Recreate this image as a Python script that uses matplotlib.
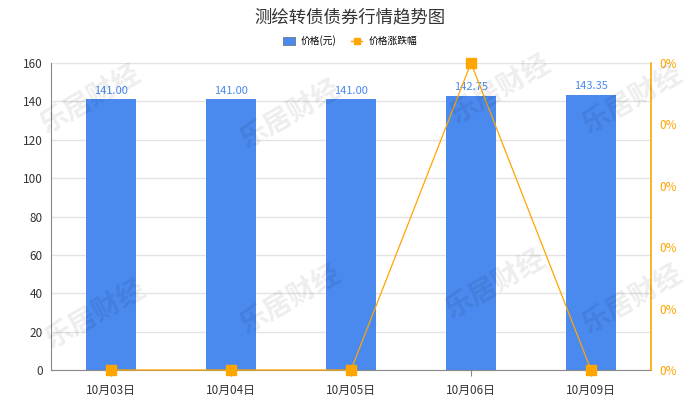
import matplotlib
matplotlib.use("Agg")
import matplotlib.pyplot as plt
from matplotlib.lines import Line2D
from matplotlib.patches import Patch

plt.rcParams['font.family'] = ['Noto Sans CJK SC', 'DejaVu Sans']

categories = ["10月03日", "10月04日", "10月05日", "10月06日", "10月09日"]
prices = [141.00, 141.00, 141.00, 142.75, 143.35]
pct_change = [0, 0, 0, 1, 0]
right_tick_labels = ["0%", "0%", "0%", "0%", "0%", "0%"]

bar_color = "#4A89EE"
line_color = "#FFA500"

fig = plt.figure(figsize=(7, 4), dpi=100)
ax = fig.add_axes([51/700, 30/400, 600/700, 307/400])
x = list(range(len(categories)))
ax.bar(x, prices, width=0.41, color=bar_color, zorder=2)
for xi, v in zip(x, prices):
    ax.text(xi, v + 2, f"{v:.2f}", ha="center", va="bottom", color=bar_color, fontsize=8)
ax.set_xlim(-0.5, len(categories) - 0.5)
ax.set_ylim(0, 160)
ax.set_yticks(range(0, 161, 20))
ax.set_xticks(x)
ax.set_xticklabels(categories)
ax.tick_params(axis="both", colors="#333333", labelsize=8.5, length=0)
ax.tick_params(axis="x", pad=6, length=4, colors="#888888", labelcolor="#333333")
ax.tick_params(axis="y", pad=6)
ax.grid(axis="y", color="#e3e3e3", linewidth=1, zorder=0)
ax.set_axisbelow(True)
for s in ["top", "right"]:
    ax.spines[s].set_visible(False)
ax.spines["left"].set_color("#888888")
ax.spines["bottom"].set_color("#888888")

ax2 = ax.twinx()
ax2.plot(x, pct_change, color=line_color, linewidth=0.9, marker="s", markersize=6.5,
         clip_on=False, zorder=5)
ax2.set_ylim(0, 1)
ax2.set_yticks([i / 5 for i in range(6)])
ax2.set_yticklabels(right_tick_labels)
ax2.tick_params(axis="y", colors=line_color, labelsize=8.5, length=0, pad=6)
for s in ["top", "left", "bottom"]:
    ax2.spines[s].set_visible(False)
ax2.spines["right"].set_color(line_color)
ax2.spines["right"].set_linewidth(1.2)

fig.text(0.5, 1 - 17/400, "测绘转债债券行情趋势图", ha="center", va="center",
         fontsize=12.5, color="#333333")

handles = [Patch(facecolor=bar_color, edgecolor="#666666", linewidth=0.5),
           Line2D([0], [0], color=line_color, marker="s", markersize=5, linewidth=1)]
fig.legend(handles, ["价格(元)", "价格涨跌幅"], loc="center", bbox_to_anchor=(0.5, 1 - 41/400),
           ncol=2, frameon=False, fontsize=7, handlelength=1.2, handleheight=0.8,
           columnspacing=1.5, handletextpad=0.6)

wm = [(90, 100), (290, 115), (500, 90), (632, 100), (95, 315), (290, 300), (495, 285), (632, 300)]
for px, py in wm:
    fig.text(px/700, 1 - py/400, "乐居财经", ha="center", va="center", rotation=30,
             fontsize=20, fontweight="bold", color="#000000", alpha=0.07, zorder=10)

fig.savefig("out.png", dpi=100)
